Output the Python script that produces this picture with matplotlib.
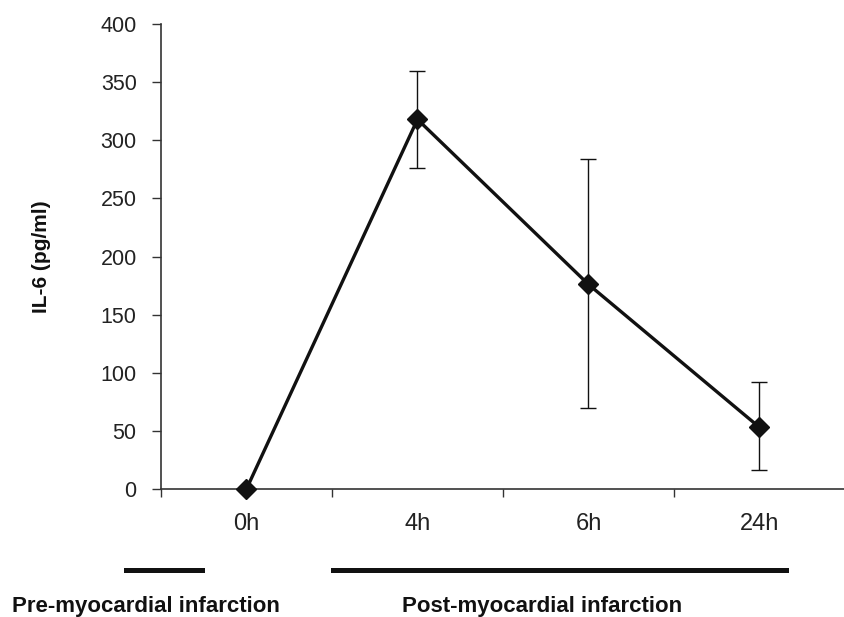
import matplotlib.pyplot as plt
from matplotlib.lines import Line2D

# Data
timepoints = ['0h', '4h', '6h', '24h']
il6_mean = [0, 318, 176, 53]
il6_upper = [0, 360, 284, 92]
il6_lower = [0, 276, 70, 16]

err_low = [m - lo for m, lo in zip(il6_mean, il6_lower)]
err_high = [hi - m for m, hi in zip(il6_mean, il6_upper)]
x = list(range(len(timepoints)))

plt.rcParams['font.family'] = ['Liberation Sans', 'DejaVu Sans']

fig = plt.figure(figsize=(8.45, 6.17), dpi=100)
ax = fig.add_axes([0.1905, 0.2075, 0.8095, 0.7535])

# Error bars and line
ax.errorbar(x, il6_mean, yerr=[err_low, err_high], fmt='none',
            ecolor='#111111', elinewidth=1, capsize=5.5, capthick=1, zorder=2)
ax.plot(x, il6_mean, color='#111111', linewidth=2.4, marker='D',
        markersize=10, markerfacecolor='#111111', markeredgecolor='#111111',
        zorder=3, clip_on=False)

# Axes styling
ax.set_ylim(0, 400)
ax.set_yticks(range(0, 401, 50))
ax.set_xlim(-0.5, 3.437)
ax.set_xticks([i - 0.5 for i in range(5)])
ax.set_xticklabels([])
ax.set_xticks(x, minor=True)
ax.set_xticklabels(timepoints, minor=True)
ax.tick_params(axis='x', which='minor', length=0, pad=17, labelsize=17,
               labelcolor='#222222')
ax.tick_params(axis='x', which='major', length=6, width=1, color='#333333')
ax.tick_params(axis='y', length=6.5, width=1, color='#333333', labelsize=15.5,
               labelcolor='#222222', pad=11)
for side in ['top', 'right']:
    ax.spines[side].set_visible(False)
for side in ['left', 'bottom']:
    ax.spines[side].set_color('#333333')
    ax.spines[side].set_linewidth(1.2)

ax.set_ylabel('IL-6 (pg/ml)', fontsize=15, fontweight='bold', color='#111111')
ax.yaxis.set_label_coords(-0.175, 0.5)
ax.yaxis.label.set_va('center')

# Period bars and labels under the axis
fig.add_artist(Line2D([126 / 845, 202 / 845], [1 - 570 / 617] * 2,
                      color='#111111', linewidth=3.6))
fig.add_artist(Line2D([333 / 845, 786 / 845], [1 - 570 / 617] * 2,
                      color='#111111', linewidth=3.6))
fig.text(12 / 845, 1 - 612 / 617, 'Pre-myocardial infarction', fontsize=16,
         fontweight='bold', va='baseline', ha='left', color='#111111')
fig.text(402 / 845, 1 - 612 / 617, 'Post-myocardial infarction', fontsize=16,
         fontweight='bold', va='baseline', ha='left', color='#111111')

plt.savefig('out.png', dpi=100)
